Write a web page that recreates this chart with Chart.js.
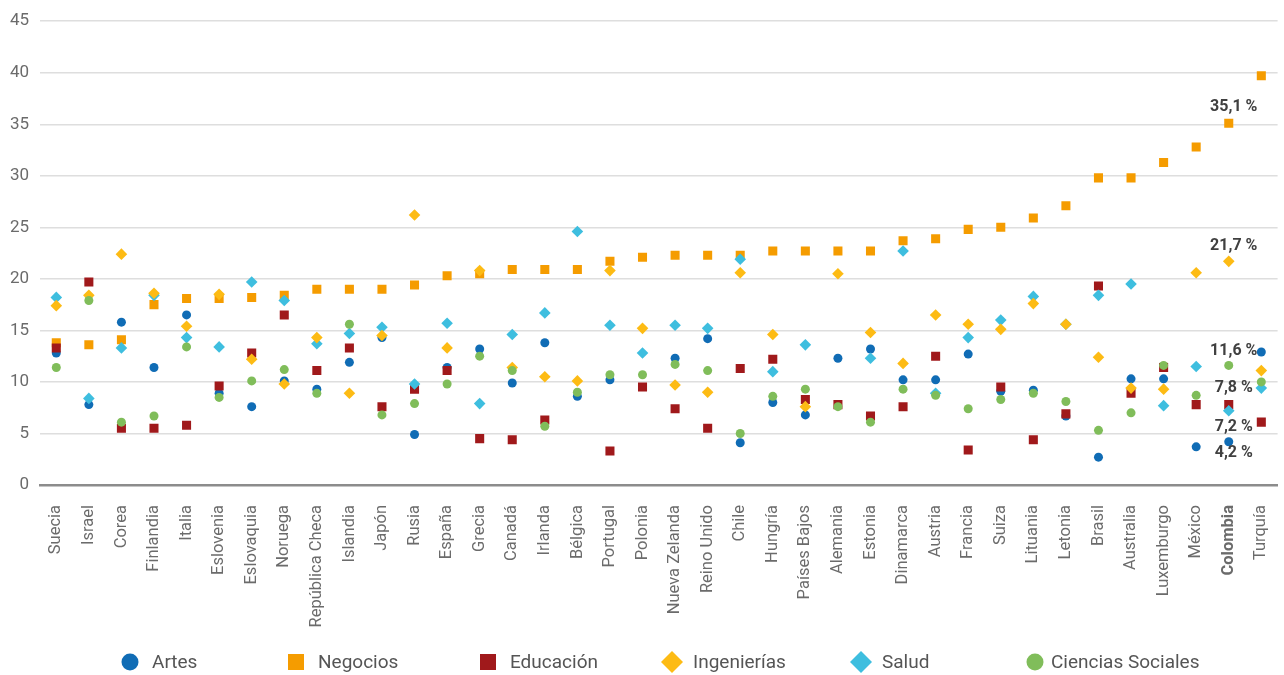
<!DOCTYPE html>
<html>
<head>
<meta charset="utf-8">
<script src="https://cdn.jsdelivr.net/npm/chart.js@4.4.1/dist/chart.umd.min.js"></script>
<style>
html,body{margin:0;padding:0;background:#fff;}
#wrap{position:relative;width:1284px;height:675px;}
</style>
</head>
<body>
<div id="wrap"><canvas id="c" width="1284" height="675"></canvas></div>
<script>
const countries = ["Suecia","Israel","Corea","Finlandia","Italia","Eslovenia","Eslovaquia","Noruega","República Checa","Islandia","Japón","Rusia","España","Grecia","Canadá","Irlanda","Bélgica","Portugal","Polonia","Nueva Zelanda","Reino Unido","Chile","Hungría","Países Bajos","Alemania","Estonia","Dinamarca","Austria","Francia","Suiza","Lituania","Letonia","Brasil","Australia","Luxemburgo","México","Colombia","Turquía"];

const artes       = [12.8,7.8,15.8,11.4,16.5,8.9,7.6,10.1,9.3,11.9,14.3,4.9,11.4,13.2,9.9,13.8,8.6,10.2,null,12.3,14.2,4.1,8.0,6.8,12.3,13.2,10.2,10.2,12.7,9.1,9.2,6.7,2.7,10.3,10.3,3.7,4.2,12.9];
const negocios    = [13.8,13.6,14.1,17.5,18.1,18.1,18.2,18.4,19.0,19.0,19.0,19.4,20.3,20.5,20.9,20.9,20.9,21.7,22.1,22.3,22.3,22.3,22.7,22.7,22.7,22.7,23.7,23.9,24.8,25.0,25.9,27.1,29.8,29.8,31.3,32.8,35.1,39.7];
const educacion   = [13.3,19.7,5.5,5.5,5.8,9.6,12.8,16.5,11.1,13.3,7.6,9.3,11.1,4.5,4.4,6.3,null,3.3,9.5,7.4,5.5,11.3,12.2,8.3,7.8,6.7,7.6,12.5,3.4,9.5,4.4,6.9,19.3,8.9,11.4,7.8,7.8,6.1];
const ingenierias = [17.4,18.4,22.4,18.6,15.4,18.5,12.2,9.8,14.3,8.9,14.5,26.2,13.3,20.8,11.4,10.5,10.1,20.8,15.2,9.7,9.0,20.6,14.6,7.6,20.5,14.8,11.8,16.5,15.6,15.1,17.6,15.6,12.4,9.4,9.3,20.6,21.7,11.1];
const salud       = [18.2,8.4,13.3,18.4,14.3,13.4,19.7,17.9,13.7,14.7,15.3,9.8,15.7,7.9,14.6,16.7,24.6,15.5,12.8,15.5,15.2,21.9,11.0,13.6,null,12.3,22.7,8.9,14.3,16.0,18.3,15.6,18.4,19.5,7.7,11.5,7.2,9.4];
const sociales    = [11.4,17.9,6.1,6.7,13.4,8.5,10.1,11.2,8.9,15.6,6.8,7.9,9.8,12.5,11.1,5.7,9.0,10.7,10.7,11.7,11.1,5.0,8.6,9.3,7.6,6.1,9.3,8.7,7.4,8.3,8.9,8.1,5.3,7.0,11.6,8.7,11.6,10.0];

const seriesNames = ["Artes","Negocios","Educación","Ingenierías","Salud","Ciencias Sociales"];
const yTicks = [0,5,10,15,20,25,30,35,40,45];

// Highlighted values for Colombia: series index and label text
const highlightCountry = "Colombia";
const highlightSeries = [1,3,5,2,4,0];
const highlightTexts  = ["35,1 %","21,7 %","11,6 %","7,8 %","7,2 %","4,2 %"];

// styling
const hlOffsets = [-16,-15,-14,-17,16,11];
const colors = ["#106cb5","#f59c00","#a0191b","#fdbb14","#3ebedf","#80bd5a"];
const styles = ["circle","rect","rect","rectRot","rectRot","circle"];
const radii  = [4.5,6.4,6.4,5.8,5.8,4.5];
const drawOrder = [6,5,4,2,3,1];
const legendX = [130,296,488,672,861,1035];
const legendTextGap = [22,22,22,21,21,16];
const legendY = 662;
const allData = [artes,negocios,educacion,ingenierias,salud,sociales];

const FONT = "Roboto,'Liberation Sans',sans-serif";

function drawMarker(ctx, style, x, y, size){
  ctx.beginPath();
  if (style === 'circle') {
    ctx.arc(x, y, size/2, 0, Math.PI*2);
  } else if (style === 'rect') {
    ctx.rect(x - size/2, y - size/2, size, size);
  } else {
    ctx.moveTo(x, y - size/2); ctx.lineTo(x + size/2, y);
    ctx.lineTo(x, y + size/2); ctx.lineTo(x - size/2, y); ctx.closePath();
  }
  ctx.fill();
}

const extrasPlugin = {
  id: 'extras',
  afterDatasetsDraw(chart){
    const ctx = chart.ctx;
    const xs = chart.scales.x, ys = chart.scales.y;
    const idx = countries.indexOf(highlightCountry);
    ctx.save();
    ctx.font = "bold 16px " + FONT;
    ctx.fillStyle = "#404040";
    ctx.textAlign = "center";
    ctx.textBaseline = "middle";
    highlightSeries.forEach((s, k) => {
      const v = allData[s][idx];
      const x = xs.getPixelForValue(idx) + 5;
      const y = ys.getPixelForValue(v) + hlOffsets[k];
      ctx.fillText(highlightTexts[k], x, y);
    });
    ctx.restore();
  },
  afterDraw(chart){
    const ctx = chart.ctx;
    ctx.save();
    ctx.font = "19px " + FONT;
    ctx.textBaseline = "middle";
    ctx.textAlign = "left";
    seriesNames.forEach((n, i) => {
      ctx.fillStyle = colors[i];
      const sz = styles[i] === 'circle' ? 17 : (styles[i] === 'rect' ? 16 : 22);
      drawMarker(ctx, styles[i], legendX[i], legendY, sz);
      ctx.fillStyle = '#555555';
      ctx.fillText(n, legendX[i] + legendTextGap[i], legendY + 1);
    });
    ctx.restore();
  }
};

new Chart(document.getElementById('c'), {
  type: 'scatter',
  data: {
    labels: countries,
    datasets: seriesNames.map((n,i) => ({
      label: n,
      data: allData[i],
      backgroundColor: colors[i],
      borderColor: colors[i],
      borderWidth: 0,
      pointStyle: styles[i],
      pointRadius: radii[i],
      pointHoverRadius: radii[i],
      order: drawOrder[i],
      showLine: false
    }))
  },
  options: {
    responsive: false,
    animation: false,
    layout: { padding: { left: 0, right: 5, top: 14, bottom: 45 } },
    scales: {
      x: {
        type: 'category',
        offset: true,
        afterFit(scale){ scale.height = 145; scale.paddingLeft = 0; scale.paddingRight = 0; },
        grid: { display: false, drawTicks: false },
        border: { display: true, color: '#8c8c8c', width: 2.5 },
        ticks: {
          autoSkip: false,
          maxRotation: 90,
          minRotation: 90,
          padding: 20,
          color: '#6b6b6b',
          font: (ctx) => ({ family: FONT, size: 16.5, weight: (ctx.tick && ctx.tick.label === highlightCountry) ? 'bold' : 'normal' })
        }
      },
      y: {
        min: 0, max: 45,
        afterBuildTicks(scale){ scale.ticks = yTicks.map(v => ({value: v})); },
        afterFit(scale){ scale.width = 40; },
        grid: { color: '#dedede', lineWidth: 1.5, drawTicks: false },
        border: { display: false },
        ticks: { color: '#6b6b6b', padding: 11, font: { family: FONT, size: 17 } }
      }
    },
    plugins: {
      legend: { display: false },
      tooltip: { enabled: false }
    }
  },
  plugins: [extrasPlugin]
});
</script>
</body>
</html>
